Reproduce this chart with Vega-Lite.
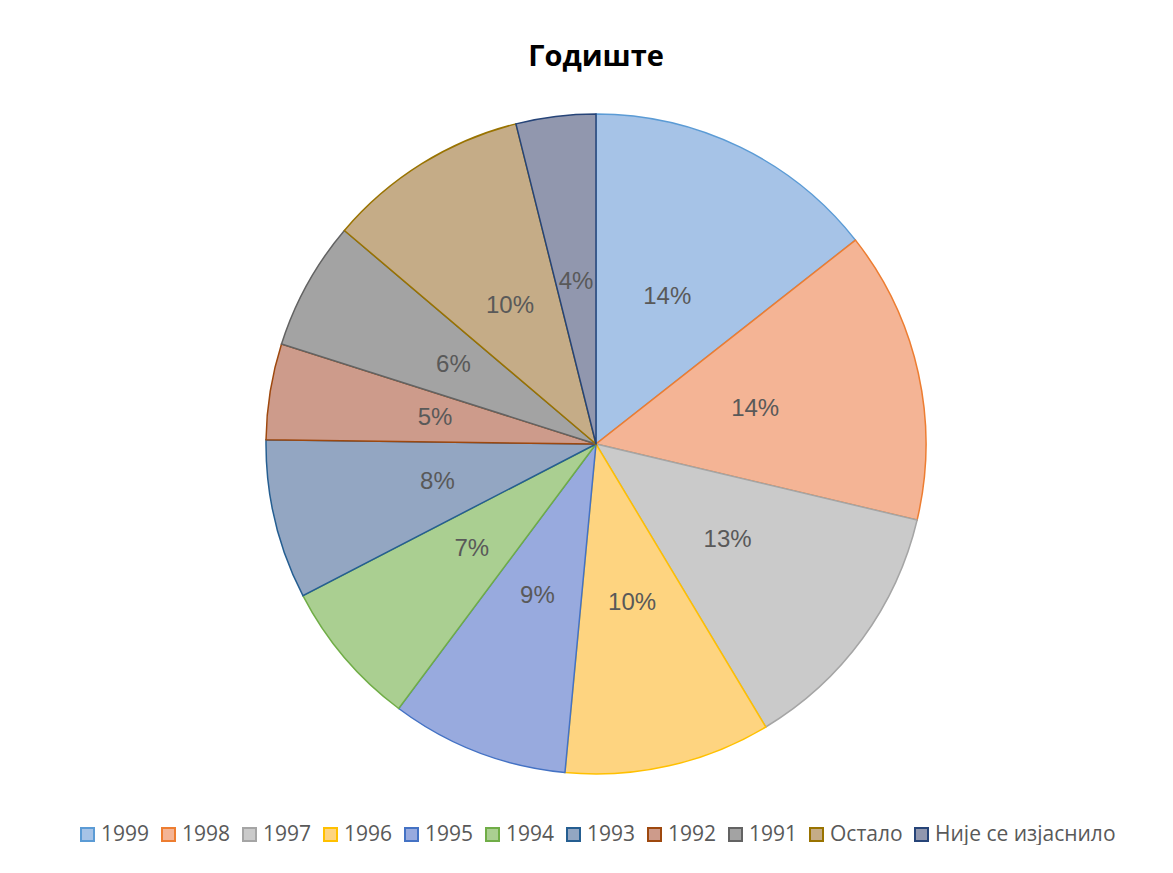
{
  "$schema": "https://vega.github.io/schema/vega-lite/v6.json",
  "width": 1154,
  "height": 660,
  "padding": {"left": 19, "top": 43, "right": 0, "bottom": 0},
  "background": "white",
  "title": {
    "text": "Годиште",
    "font": "Open Sans",
    "fontSize": 29,
    "fontWeight": "bold",
    "color": "#000000",
    "anchor": "middle",
    "offset": 39
  },
  "config": {
    "view": {"stroke": null},
    "legend": {"layout": {"bottom": {"anchor": "middle"}}}
  },
  "data": {
    "values": [
      {"year": "1999", "pct": 14.4, "label": "14%", "ord": 1},
      {"year": "1998", "pct": 14.3, "label": "14%", "ord": 2},
      {"year": "1997", "pct": 12.7, "label": "13%", "ord": 3},
      {"year": "1996", "pct": 10.1, "label": "10%", "ord": 4},
      {"year": "1995", "pct": 8.7, "label": "9%", "ord": 5},
      {"year": "1994", "pct": 7.2, "label": "7%", "ord": 6},
      {"year": "1993", "pct": 7.8, "label": "8%", "ord": 7},
      {"year": "1992", "pct": 4.7, "label": "5%", "ord": 8},
      {"year": "1991", "pct": 6.3, "label": "6%", "ord": 9},
      {"year": "Остало", "pct": 9.9, "label": "10%", "ord": 10},
      {"year": "Није се изјаснило", "pct": 3.9, "label": "4%", "ord": 11}
    ]
  },
  "encoding": {
    "theta": {"field": "pct", "type": "quantitative", "stack": true},
    "order": {"field": "ord", "type": "quantitative"}
  },
  "layer": [
    {
      "mark": {"type": "arc", "outerRadius": 330, "strokeWidth": 1.5},
      "encoding": {
        "fill": {
          "field": "year",
          "type": "nominal",
          "scale": {
            "domain": ["1999", "1998", "1997", "1996", "1995", "1994", "1993", "1992", "1991", "Остало", "Није се изјаснило"],
            "range": ["#a6c3e7", "#f4b495", "#cacaca", "#fed480", "#98aade", "#aacf91", "#93a6c2", "#cd9b8b", "#a3a3a3", "#c5ac87", "#9197ae"]
          },
          "legend": {
            "title": null,
            "orient": "bottom",
            "direction": "horizontal",
            "symbolType": "square",
            "symbolSize": 169,
            "symbolStrokeWidth": 2,
            "labelFont": "Open Sans",
            "labelFontSize": 21,
            "labelColor": "#595959",
            "labelLimit": 400,
            "labelOffset": 3,
            "columnPadding": 8,
            "offset": 50
          }
        },
        "stroke": {
          "field": "year",
          "type": "nominal",
          "scale": {
            "domain": ["1999", "1998", "1997", "1996", "1995", "1994", "1993", "1992", "1991", "Остало", "Није се изјаснило"],
            "range": ["#5b9bd5", "#ed7d31", "#a5a5a5", "#ffc000", "#4472c4", "#70ad47", "#255e91", "#9e480e", "#636363", "#997300", "#264478"]
          },
          "legend": {
            "title": null,
            "orient": "bottom",
            "direction": "horizontal",
            "symbolType": "square",
            "symbolSize": 169,
            "symbolStrokeWidth": 2,
            "labelFont": "Open Sans",
            "labelFontSize": 21,
            "labelColor": "#595959",
            "labelLimit": 400,
            "labelOffset": 3,
            "columnPadding": 8,
            "offset": 50
          }
        }
      }
    },
    {
      "mark": {"type": "text", "radius": 163, "font": "Liberation Sans", "fontSize": 24, "fill": "#595959"},
      "encoding": {"text": {"field": "label", "type": "nominal"}}
    }
  ]
}
